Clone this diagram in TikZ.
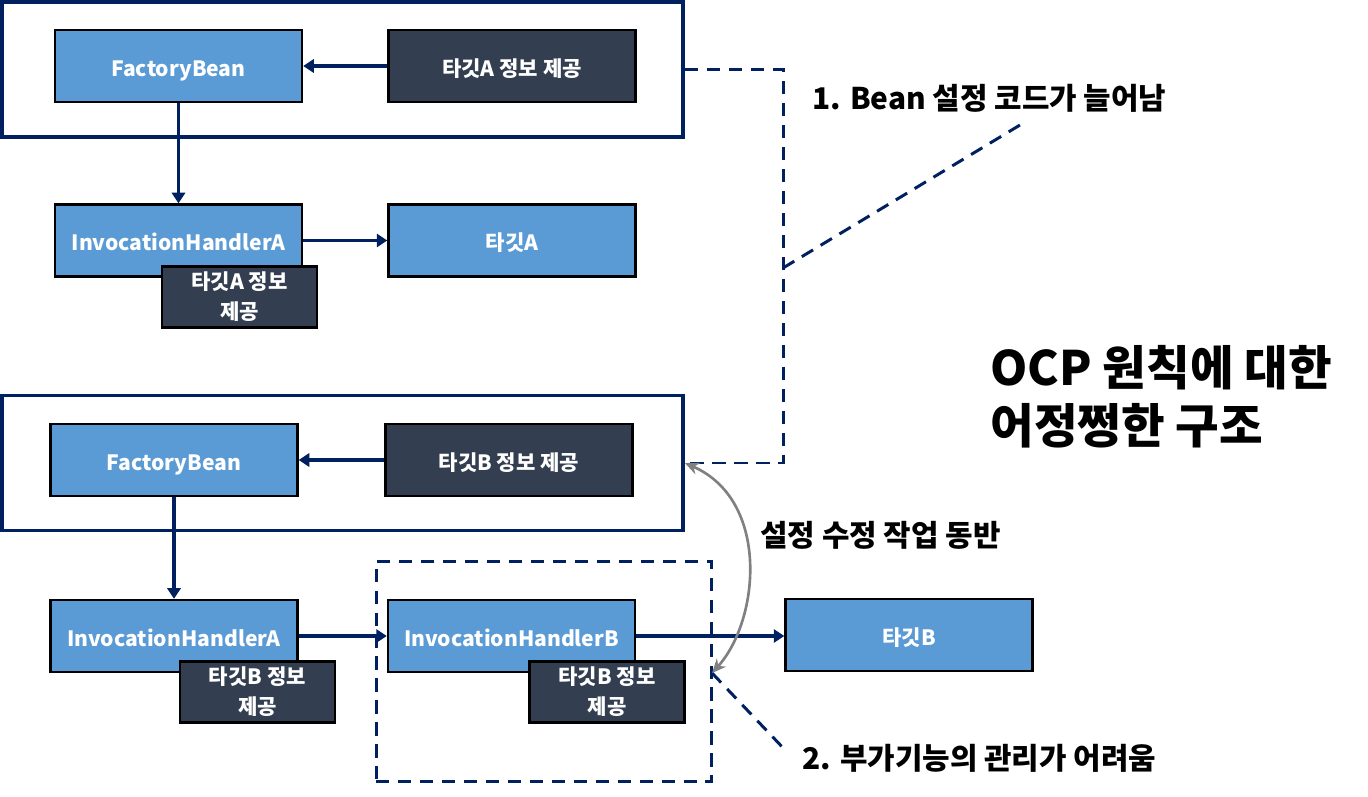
\documentclass[tikz,border=0pt]{standalone}
\usepackage{fontspec}
\setmainfont{Noto Sans CJK KR}
\usepackage{tikz}
\usetikzlibrary{arrows.meta, positioning}
\definecolor{boxblue}{RGB}{91, 155, 213}
\definecolor{slate}{RGB}{51, 63, 80}
\definecolor{navy}{RGB}{0, 32, 96}
\definecolor{arcgray}{RGB}{128, 128, 128}

\begin{document}
\begin{tikzpicture}[x=0.02cm, y=-0.02cm,
  bluebox/.style={draw=black, line width=1.4pt, fill=boxblue, text=white, font=\bfseries\fontsize{12}{17}\selectfont, text height=11.5pt, text depth=0pt, minimum width=4.94cm, minimum height=1.44cm, inner sep=0pt},
  darkbox/.style={bluebox, fill=slate},
  tagbox/.style={darkbox, text height=, text depth=, minimum width=3.1cm, minimum height=1.22cm, align=center},
  groupbox/.style={draw=navy, line width=2.2pt, minimum width=13.62cm, minimum height=2.7cm, inner sep=0pt},
  scopebox/.style={draw=navy, line width=1.7pt, dash pattern=on 7.5pt off 5pt, minimum width=6.72cm, minimum height=4.42cm, inner sep=0pt},
  flow/.style={draw=navy, line width=1.9pt, -{Triangle[length=6pt, width=7.5pt]}},
  note/.style={draw=navy, line width=1.7pt, dash pattern=on 7.5pt off 5pt},
  revise/.style={draw=arcgray, line width=1.5pt, {Stealth[length=8pt, width=7pt]}-{Stealth[length=8pt, width=7pt]}},
  caption/.style={font=\bfseries\fontsize{17}{20}\selectfont, anchor=west, inner sep=0pt}]
  \useasboundingbox (0,0) rectangle (1368,797);

  % containers
  \node[groupbox] (grpA) at (342.5, 69.5) {};
  \node[groupbox] (grpB) at (342.5, 463) {};
  \node[scopebox] (scope) at (544, 671.5) {};

  % target A
  \node[bluebox] (fbA) at (178.5, 66) {FactoryBean};
  \node[darkbox] (infoA) at (512, 66) {타깃A 정보 제공};
  \node[bluebox] (ihA) at (178.5, 240.5) {InvocationHandlerA};
  \node[bluebox] (tgA) at (512, 240.5) {타깃A};
  \node[tagbox] (tagA) at (239.5, 297) {타깃A 정보\\제공};

  % target B
  \node[bluebox] (fbB) at (174, 460) {FactoryBean};
  \node[darkbox] (infoB) at (509, 460) {타깃B 정보 제공};
  \node[bluebox] (ihAB) at (174, 636) {InvocationHandlerA};
  \node[tagbox] (tagAB) at (257.5, 692) {타깃B 정보\\제공};
  \node[bluebox] (ihB) at (511.5, 636) {InvocationHandlerB};
  \node[tagbox] (tagB) at (607, 692) {타깃B 정보\\제공};
  \node[bluebox] (tgB) at (909, 635) {타깃B};

  \draw[flow] (infoA) -- (fbA);
  \draw[flow] (fbA) -- (ihA);
  \draw[flow] (ihA) -- (tgA);
  \draw[flow] (infoB) -- (fbB);
  \draw[flow] (fbB) -- (ihAB);
  \draw[flow] (ihAB) -- (ihB);
  \draw[flow] (ihB.east) -- (ihB.east -| tgB.west);

  % notes
  \node[caption] (note1) at (812, 98) {1. Bean 설정 코드가 늘어남};
  \node[caption] (note2) at (802, 758) {2. 부가기능의 관리가 어려움};
  \node[caption] (edit) at (760, 535) {설정 수정 작업 동반};
  \node[anchor=west, align=left, inner sep=0pt, font=\bfseries\fontsize{27}{33}\selectfont] (title) at (990, 397) {OCP 원칙에 대한\\어정쩡한 구조};

  \coordinate (bend) at (783, 268);
  \coordinate (tip1) at (1025, 122);
  \coordinate (hook) at (712, 673);
  \coordinate (tip2) at (787, 752);
  \draw[note] (grpA.east) -| (bend) |- (grpB.east);
  \draw[note] (bend) -- (tip1);
  \draw[note] (hook) -- (tip2);
  \draw[revise] (hook) .. controls (760, 620) and (770, 500) .. (grpB.east);
\end{tikzpicture}
\end{document}
